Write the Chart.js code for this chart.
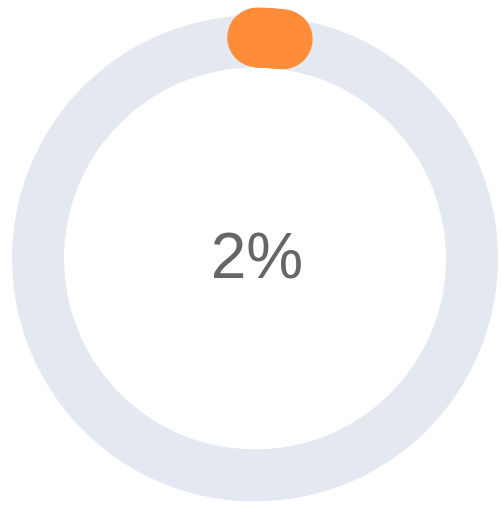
<!DOCTYPE html>
<html>
<head>
<meta charset="utf-8">
<script src="https://cdn.jsdelivr.net/npm/chart.js@4/dist/chart.umd.min.js"></script>
<style>
  html, body { margin: 0; padding: 0; background: #fff; }
  #wrap { width: 502px; height: 507px; }
</style>
</head>
<body>
<div id="wrap"><canvas id="gauge"></canvas></div>
<script>
/* ---------- Data ---------- */
const labels = ["Concluído", "Restante"];
const values = [2, 98];
const colors = ["#ff8c38", "#e3e8f1"];
const centerLabel = values[0] + "%";

/* round caps on the progress slice, from the arc element's own geometry */
const roundCaps = {
  id: "roundCaps",
  afterDatasetDraw(chart, args) {
    const arc = args.meta.data[0];
    if (!arc) return;
    const p = arc.getProps(["x", "y", "startAngle", "endAngle", "innerRadius", "outerRadius"], true);
    const ctx = chart.ctx;
    const r = (p.innerRadius + p.outerRadius) / 2 + 4;
    ctx.save();
    ctx.beginPath();
    ctx.arc(p.x, p.y, r, p.startAngle + 0.01, p.endAngle);
    ctx.lineCap = "round";
    ctx.lineWidth = p.outerRadius - p.innerRadius + 8;
    ctx.strokeStyle = arc.options.backgroundColor;
    ctx.stroke();
    ctx.restore();
  }
};

// texto central
const centerText = {
  id: "centerText",
  afterDraw(chart) {
    const arc = chart.getDatasetMeta(0).data[0];
    const ctx = chart.ctx;
    ctx.save();
    ctx.font = "64px 'Liberation Sans', Arial, sans-serif";
    ctx.fillStyle = "#666";
    ctx.textAlign = "center";
    ctx.textBaseline = "middle";
    ctx.fillText(centerLabel, arc.x + 2, arc.y + 2);
    ctx.restore();
  }
};

new Chart(document.getElementById("gauge"), {
  type: "doughnut",
  data: {
    labels,
    datasets: [{ data: values, backgroundColor: colors, borderWidth: 0 }]
  },
  options: {
    responsive: true, maintainAspectRatio: false, animation: false,
    radius: 243, cutout: "78.6%",
    layout: { padding: { left: 8, top: 10, right: 0, bottom: 0 } },
    plugins: { legend: { display: false }, tooltip: { enabled: false } }
  },
  plugins: [roundCaps, centerText]
});
</script>
</body>
</html>
